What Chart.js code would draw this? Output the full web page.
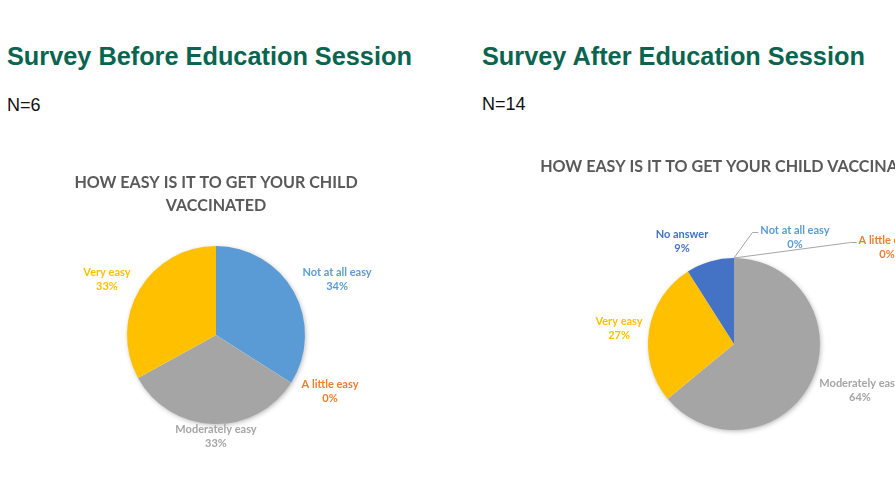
<!DOCTYPE html>
<html><head><meta charset="utf-8">
<script src="https://cdn.jsdelivr.net/npm/chart.js@4.4.1/dist/chart.umd.min.js"></script>
<style>
html,body{margin:0;padding:0;width:895px;height:477px;overflow:hidden;background:#fff;position:relative;}
.h{position:absolute;font-family:"Liberation Sans",Arial,sans-serif;font-weight:bold;font-size:25.3px;line-height:25px;color:#0A6550;white-space:nowrap;}
.n{position:absolute;font-family:"Liberation Sans",Arial,sans-serif;font-size:18px;line-height:18px;color:#111;white-space:nowrap;}
canvas{position:absolute;}
</style></head><body>
<div class="h" style="left:7px;top:44px">Survey Before Education Session</div>
<div class="n" style="left:7px;top:96px">N=6</div>
<div class="h" style="left:482px;top:44px">Survey After Education Session</div>
<div class="n" style="left:482px;top:95px">N=14</div>
<canvas id="before" width="432" height="320" style="left:0px;top:150px"></canvas>
<canvas id="after" width="400" height="330" style="left:534px;top:140px"></canvas>
<script>
// ---- data ----
const titleBefore = ['HOW EASY IS IT TO GET YOUR CHILD', 'VACCINATED'];
const titleAfter = 'HOW EASY IS IT TO GET YOUR CHILD VACCINATED';
const categoriesBefore = ['Not at all easy', 'A little easy', 'Moderately easy', 'Very easy'];
const percentsBefore = [34, 0, 33, 33];
const categoriesAfter = ['Not at all easy', 'A little easy', 'Moderately easy', 'Very easy', 'No answer'];
const percentsAfter = [0, 0, 64, 27, 9];

// ---- styles ----
const categoryColors = {
  'Not at all easy': '#5B9BD5',
  'A little easy': '#ED7D31',
  'Moderately easy': '#A5A5A5',
  'Very easy': '#FFC000',
  'No answer': '#4472C4'
};
// label placement: [dx, dy] in units of the pie radius from pie centre, leader flag
const labelPlaceBefore = [[1.36, -0.624, false], [1.281, 0.629, false], [0, 1.135, false], [-1.225, -0.624, false]];
const labelPlaceAfter = [[0.709, -1.238, true], [1.779, -1.122, true], [1.465, 0.535, false], [-1.337, -0.186, false], [-0.605, -1.192, false]];

const LABEL_FONT = 'bold 11px Lato, "Open Sans", sans-serif';
const LINE_GAP = 14;

const pieDecor = {
  id: 'pieDecor',
  beforeDatasetsDraw(chart) {
    const arc = chart.getDatasetMeta(0).data[0];
    const p = arc.getProps(['x', 'y', 'outerRadius'], true);
    const ctx = chart.ctx;
    ctx.save();
    ctx.shadowColor = 'rgba(0,0,0,0.30)';
    ctx.shadowBlur = 5;
    ctx.shadowOffsetX = 1;
    ctx.shadowOffsetY = 1.5;
    ctx.beginPath();
    ctx.arc(p.x, p.y, p.outerRadius - 0.5, 0, Math.PI * 2);
    ctx.fillStyle = '#fff';
    ctx.fill();
    ctx.restore();
  },
  afterDatasetsDraw(chart, args, opts) {
    const meta = chart.getDatasetMeta(0);
    const ds = chart.data.datasets[0];
    const ctx = chart.ctx;
    meta.data.forEach((arc, i) => {
      const p = arc.getProps(['x', 'y', 'startAngle', 'endAngle', 'outerRadius'], true);
      const place = opts.place[i];
      const cx = p.x + place[0] * p.outerRadius;
      const cy = p.y + place[1] * p.outerRadius;
      const lines = [chart.data.labels[i], ds.data[i] + '%'];
      ctx.save();
      ctx.font = LABEL_FONT;
      ctx.textAlign = 'center';
      ctx.textBaseline = 'middle';
      ctx.fillStyle = categoryColors[chart.data.labels[i]];
      const w = Math.max(...lines.map(t => ctx.measureText(t).width));
      const y1 = cy - LINE_GAP / 2;
      lines.forEach((t, k) => ctx.fillText(t, cx, y1 + k * LINE_GAP));
      if (place[2]) {
        const mid = (p.startAngle + p.endAngle) / 2;
        const ax = p.x + p.outerRadius * Math.cos(mid);
        const ay = p.y + p.outerRadius * Math.sin(mid);
        const left = cx - w / 2;
        const ly = y1 + 2;
        ctx.strokeStyle = '#A6A6A6';
        ctx.lineWidth = 1;
        ctx.beginPath();
        ctx.moveTo(ax, ay);
        ctx.lineTo(left - 8, ly);
        ctx.lineTo(left - 2, ly);
        ctx.stroke();
      }
      ctx.restore();
    });
  }
};

function makePie(id, title, cats, vals, place, padTop, padBottom, layoutBottom) {
  return new Chart(document.getElementById(id), {
    type: 'pie',
    data: {
      labels: cats,
      datasets: [{
        data: vals,
        backgroundColor: cats.map(c => categoryColors[c]),
        borderWidth: 0
      }]
    },
    options: {
      responsive: false,
      animation: false,
      events: [],
      layout: { padding: { top: 0, left: 0, right: 0, bottom: layoutBottom } },
      plugins: {
        legend: { display: false },
        tooltip: { enabled: false },
        title: {
          display: true,
          text: title,
          color: '#595959',
          font: { family: 'Lato', weight: 'bold', size: 16.1, lineHeight: '23px' },
          padding: { top: padTop, bottom: padBottom }
        },
        pieDecor: { place: place }
      }
    },
    plugins: [pieDecor]
  });
}

makePie('before', titleBefore, categoriesBefore, percentsBefore, labelPlaceBefore, 21.5, 28.5, 46);
makePie('after', titleAfter, categoriesAfter, percentsAfter, labelPlaceAfter, 15.5, 79.5, 40);
</script>
</body></html>
